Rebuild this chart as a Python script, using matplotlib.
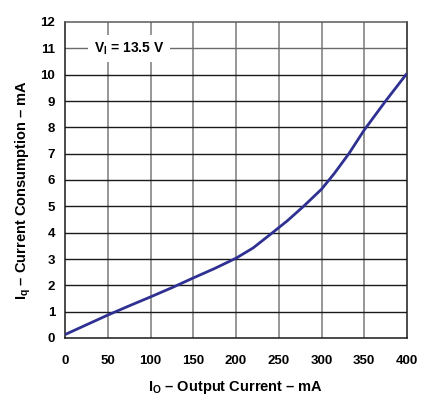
import matplotlib
matplotlib.use("Agg")
import matplotlib.pyplot as plt

plt.rcParams['font.family'] = ['Liberation Sans', 'DejaVu Sans']
plt.rcParams['mathtext.fontset'] = 'custom'
plt.rcParams['mathtext.rm'] = 'Liberation Sans'
plt.rcParams['mathtext.bf'] = 'Liberation Sans:bold'

# Data
io_ma = [0, 25, 50, 75, 100, 125, 150, 175, 200, 220, 240, 260, 279, 300, 315, 332, 350, 375, 400]
iq_ma = [0.13, 0.5, 0.87, 1.22, 1.56, 1.91, 2.28, 2.64, 3.03, 3.42, 3.93, 4.45, 5.0, 5.65, 6.25, 7.0, 7.9, 9.0, 10.05]
x_ticks = [0, 50, 100, 150, 200, 250, 300, 350, 400]
y_ticks = list(range(0, 13))

fig = plt.figure(figsize=(4.22, 4.01), dpi=100)
ax = fig.add_axes([65/422, 1-338/401, (407-65)/422, (338-22)/401])

ax.set_xlim(0, 400)
ax.set_ylim(0, 12)

# grid
for xv in x_ticks[1:-1]:
    ax.axvline(xv, color='#7a7a7a', lw=1.1, zorder=1)
for yv in y_ticks[1:-1]:
    c = '#1a1a1a' if yv <= 10 else '#6a6a6a'
    ax.axhline(yv, color=c, lw=1.0, zorder=1)

for s in ['left', 'bottom', 'right']:
    ax.spines[s].set_color('#1a1a1a')
    ax.spines[s].set_linewidth(1.1)
ax.spines['top'].set_color('#5a5a5a')
ax.spines['top'].set_linewidth(1.1)

ax.plot(io_ma, iq_ma, color='#2E3192', lw=2.0, zorder=3, solid_capstyle='butt',
        solid_joinstyle='round')

ax.set_xticks(x_ticks)
ax.set_yticks(y_ticks)
ax.tick_params(axis='both', length=0, labelsize=9.5)
ax.tick_params(axis='x', pad=12)
ax.tick_params(axis='y', pad=7)
for lab in ax.get_xticklabels() + ax.get_yticklabels():
    lab.set_fontweight('bold')

ax.text(75, 11, r'$\mathbf{V}_\mathbf{I}$ = 13.5 V', ha='center', va='center',
        fontsize=10, fontweight='bold', zorder=4,
        bbox=dict(facecolor='white', edgecolor='none', pad=4.0))

fig.text(236/422, 1-387/401, r'$\mathbf{I}_\mathbf{O}$ – Output Current – mA',
         ha='center', va='center', fontsize=10.5, fontweight='bold')
fig.text(23/422, 1-190/401, r'$\mathbf{I}_\mathbf{q}$ – Current Consumption – mA',
         ha='center', va='center', fontsize=10.5, fontweight='bold', rotation=90)

fig.savefig('out.png', dpi=100, facecolor='white')
